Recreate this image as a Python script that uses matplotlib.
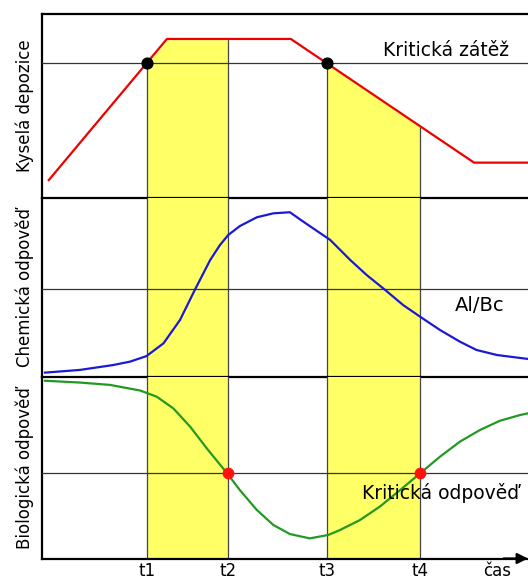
import numpy as np
import matplotlib
matplotlib.use('Agg')
import matplotlib.pyplot as plt

# time marks
t_marks = [21.6, 38.3, 58.7, 77.8]
t_labels = ['t1', 't2', 't3', 't4']
cas_pos = 93.6

# acid deposition (red)
t_red = [1.4, 25.7, 51.2, 88.9, 100.0]
v_red = [9.5, 86.4, 86.4, 19.0, 19.0]
crit_load = 73.1

# chemical response Al/Bc (blue)
t_blue = [0.6, 7.8, 14.6, 18.1, 21.5, 25.0, 28.4, 31.5, 34.6, 36.6, 38.3, 40.7,
          44.2, 47.6, 51.0, 53.8, 59.3, 63.4, 66.8, 70.6, 74.3, 77.8, 81.9, 86.0,
          89.4, 93.6, 100.0]
v_blue = [2.6, 4.1, 6.8, 8.7, 11.8, 18.9, 31.9, 48.9, 65.2, 73.5, 79.1, 84.1,
          89.0, 91.2, 91.8, 86.5, 76.4, 65.3, 56.9, 48.6, 40.2, 33.7, 26.3, 19.8,
          15.2, 12.4, 10.2]
chem_line = 48.9

# biological response (green)
t_green = [0.6, 7.8, 14.0, 20.2, 23.6, 27.0, 30.5, 33.9, 38.1, 40.7, 44.2, 47.6,
           51.0, 55.1, 58.9, 61.3, 65.4, 69.5, 73.7, 77.8, 81.9, 86.0, 90.1, 94.2,
           98.4, 100.0]
v_green = [98.1, 97.1, 95.8, 92.7, 89.3, 82.9, 72.7, 60.8, 47.0, 37.8, 26.8, 18.5,
           13.5, 11.1, 13.0, 15.7, 21.2, 28.6, 37.8, 47.0, 56.2, 64.5, 70.9, 76.0,
           79.2, 80.1]
crit_resp = 47.0

yellow = '#FFFF66'
vcol = '#444444'
fs = 12
fs_note = 13.5

fig = plt.figure(figsize=(5.28, 5.82), dpi=100)
left = 42 / 528
ax1 = fig.add_axes([left, 1 - 197.5 / 582, 1 - left, 183.5 / 582])
ax2 = fig.add_axes([left, 1 - 377.3 / 582, 1 - left, 179.8 / 582])
ax3 = fig.add_axes([left, 1 - 558.5 / 582, 1 - left, 181.2 / 582])

for ax in (ax1, ax2, ax3):
    ax.set_xlim(0, 100)
    ax.set_ylim(0, 100)
    ax.set_yticks([])
    ax.spines['right'].set_visible(False)
    for s in ax.spines.values():
        s.set_linewidth(1.6)
    ax.patch.set_alpha(0)
    for a, b in [(t_marks[0], t_marks[1]), (t_marks[2], t_marks[3])]:
        ax.axvspan(a, b, color=yellow, lw=0, zorder=0)
    for t in t_marks:
        ax.axvline(t, color=vcol, lw=0.9, zorder=1)

ax2.spines['top'].set_visible(False)
ax3.spines['top'].set_visible(False)

# top panel
ax1.fill_between(t_red, v_red, 100, color='white', zorder=2)
ax1.fill_between([0, t_red[0]], [0, 0], [100, 100], color='white', zorder=2)
ax1.axhline(crit_load, color='#333333', lw=0.9, zorder=3)
ax1.plot(t_red, v_red, color='#EE0000', lw=1.6, zorder=4)
ax1.scatter([t_marks[0], t_marks[2]], [crit_load, crit_load], s=60, color='black', zorder=5)
ax1.text(83.1, 80.3, 'Kritická zátěž', fontsize=fs_note, ha='center', va='center', zorder=6)
ax1.set_xticks([])
ax1.set_ylabel('Kyselá depozice', fontsize=fs, labelpad=6)

# middle panel
ax2.axhline(chem_line, color='#333333', lw=0.9, zorder=3)
ax2.plot(t_blue, v_blue, color='#1A1AD6', lw=1.6, zorder=4)
ax2.text(90.1, 39.7, 'Al/Bc', fontsize=14, ha='center', va='center', zorder=6)
ax2.set_xticks([])
ax2.set_ylabel('Chemická odpověď', fontsize=fs, labelpad=6)

# bottom panel
ax3.axhline(crit_resp, color='#333333', lw=0.9, zorder=3)
ax3.plot(t_green, v_green, color='#229922', lw=1.6, zorder=4)
ax3.scatter([t_marks[1], t_marks[3]], [crit_resp, crit_resp], s=55, color='#FF1111', zorder=5)
ax3.text(82.1, 36.0, 'Kritická odpověď', fontsize=fs_note, ha='center', va='center', zorder=6)
ax3.set_ylabel('Biologická odpověď', fontsize=fs, labelpad=6)
ax3.set_xticks(t_marks + [cas_pos])
ax3.set_xticklabels(t_labels + ['čas'], fontsize=fs)
ax3.tick_params(axis='x', length=0, pad=2.5)
ax3.annotate('', xy=(1.0, 0), xytext=(0.95, 0), xycoords='axes fraction',
             arrowprops=dict(arrowstyle='-|>', color='black', lw=1.6, mutation_scale=16,
                             shrinkA=0, shrinkB=0), annotation_clip=False)

fig.savefig('out.png', dpi=100)
